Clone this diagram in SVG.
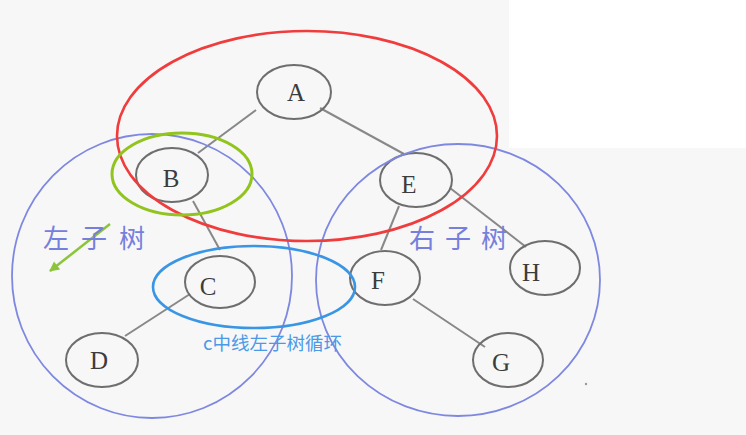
<svg xmlns="http://www.w3.org/2000/svg" width="746" height="435" viewBox="0 0 746 435">
<defs>
<style>
.node ellipse{fill:none;stroke:#6e6e6e;stroke-width:2}
.node text{font-family:"Liberation Serif","DejaVu Serif",serif;font-size:25px;fill:#3c3c3c;text-anchor:middle;dominant-baseline:central}
.edge{stroke:#888;stroke-width:2;fill:none}
.group{fill:none}
.cjk{font-family:"Noto Sans CJK SC",sans-serif}
</style>
<marker id="ah" viewBox="0 0 10 10" refX="9" refY="5" markerWidth="5" markerHeight="4" orient="auto-start-reverse">
<path d="M0,0 L10,5 L0,10 z" fill="#8cc43a"/>
</marker>
</defs>
<rect x="0" y="0" width="746" height="435" fill="#f7f7f7"/>
<rect x="509" y="0" width="237" height="148" fill="#ffffff"/>
<g id="connectors">
<line class="edge" x1="256" y1="110" x2="198" y2="153"/>
<line class="edge" x1="320" y1="108" x2="404" y2="154"/>
<line class="edge" x1="193" y1="201" x2="220" y2="250"/>
<line class="edge" x1="399" y1="206" x2="381" y2="250"/>
<line class="edge" x1="450" y1="188" x2="526" y2="247"/>
<line class="edge" x1="190" y1="294" x2="125" y2="336"/>
<line class="edge" x1="413" y1="299" x2="485" y2="347"/>
</g>
<g id="node-A" class="node"><ellipse cx="294" cy="92" rx="37" ry="27"/><text x="296" y="92">A</text></g>
<g id="node-B" class="node"><ellipse cx="172" cy="175" rx="36" ry="27"/><text x="171" y="178">B</text></g>
<g id="node-E" class="node"><ellipse cx="416" cy="180" rx="36" ry="27"/><text x="409" y="184">E</text></g>
<g id="node-C" class="node"><ellipse cx="220" cy="282" rx="35" ry="26"/><text x="208" y="286">C</text></g>
<g id="node-F" class="node"><ellipse cx="385" cy="278" rx="35" ry="27"/><text x="378" y="280">F</text></g>
<g id="node-H" class="node"><ellipse cx="545" cy="268" rx="35" ry="27"/><text x="531" y="272">H</text></g>
<g id="node-D" class="node"><ellipse cx="102" cy="360" rx="36" ry="27"/><text x="99" y="360">D</text></g>
<g id="node-G" class="node"><ellipse cx="508" cy="360" rx="35" ry="27"/><text x="501" y="362">G</text></g>
<g id="annotations">
<ellipse class="group" cx="152" cy="276" rx="140" ry="142" stroke="#7e88e0" stroke-width="1.8"/>
<ellipse class="group" cx="458" cy="280" rx="142" ry="136" stroke="#7e88e0" stroke-width="1.8"/>
<ellipse class="group" cx="307" cy="136" rx="190" ry="105" stroke="#f03c3c" stroke-width="2.6"/>
<ellipse class="group" cx="182" cy="174" rx="70" ry="41" stroke="#92c41e" stroke-width="3"/>
<ellipse class="group" cx="254" cy="287" rx="101" ry="41" stroke="#3a96e4" stroke-width="2.6"/>
<line x1="110" y1="224" x2="50" y2="271" stroke="#8cc43a" stroke-width="2.5" marker-end="url(#ah)"/>
<text class="cjk" x="43" y="248" font-size="26" letter-spacing="12" fill="#7580dc">左子树</text>
<text class="cjk" x="409" y="248" font-size="26" letter-spacing="10" fill="#7580dc">右子树</text>
<text class="cjk" x="203" y="350" font-size="18.5" fill="#4a9ae8">c中线左子树循环</text>
<circle cx="586" cy="384" r="1.2" fill="#999"/>
</g>
</svg>
